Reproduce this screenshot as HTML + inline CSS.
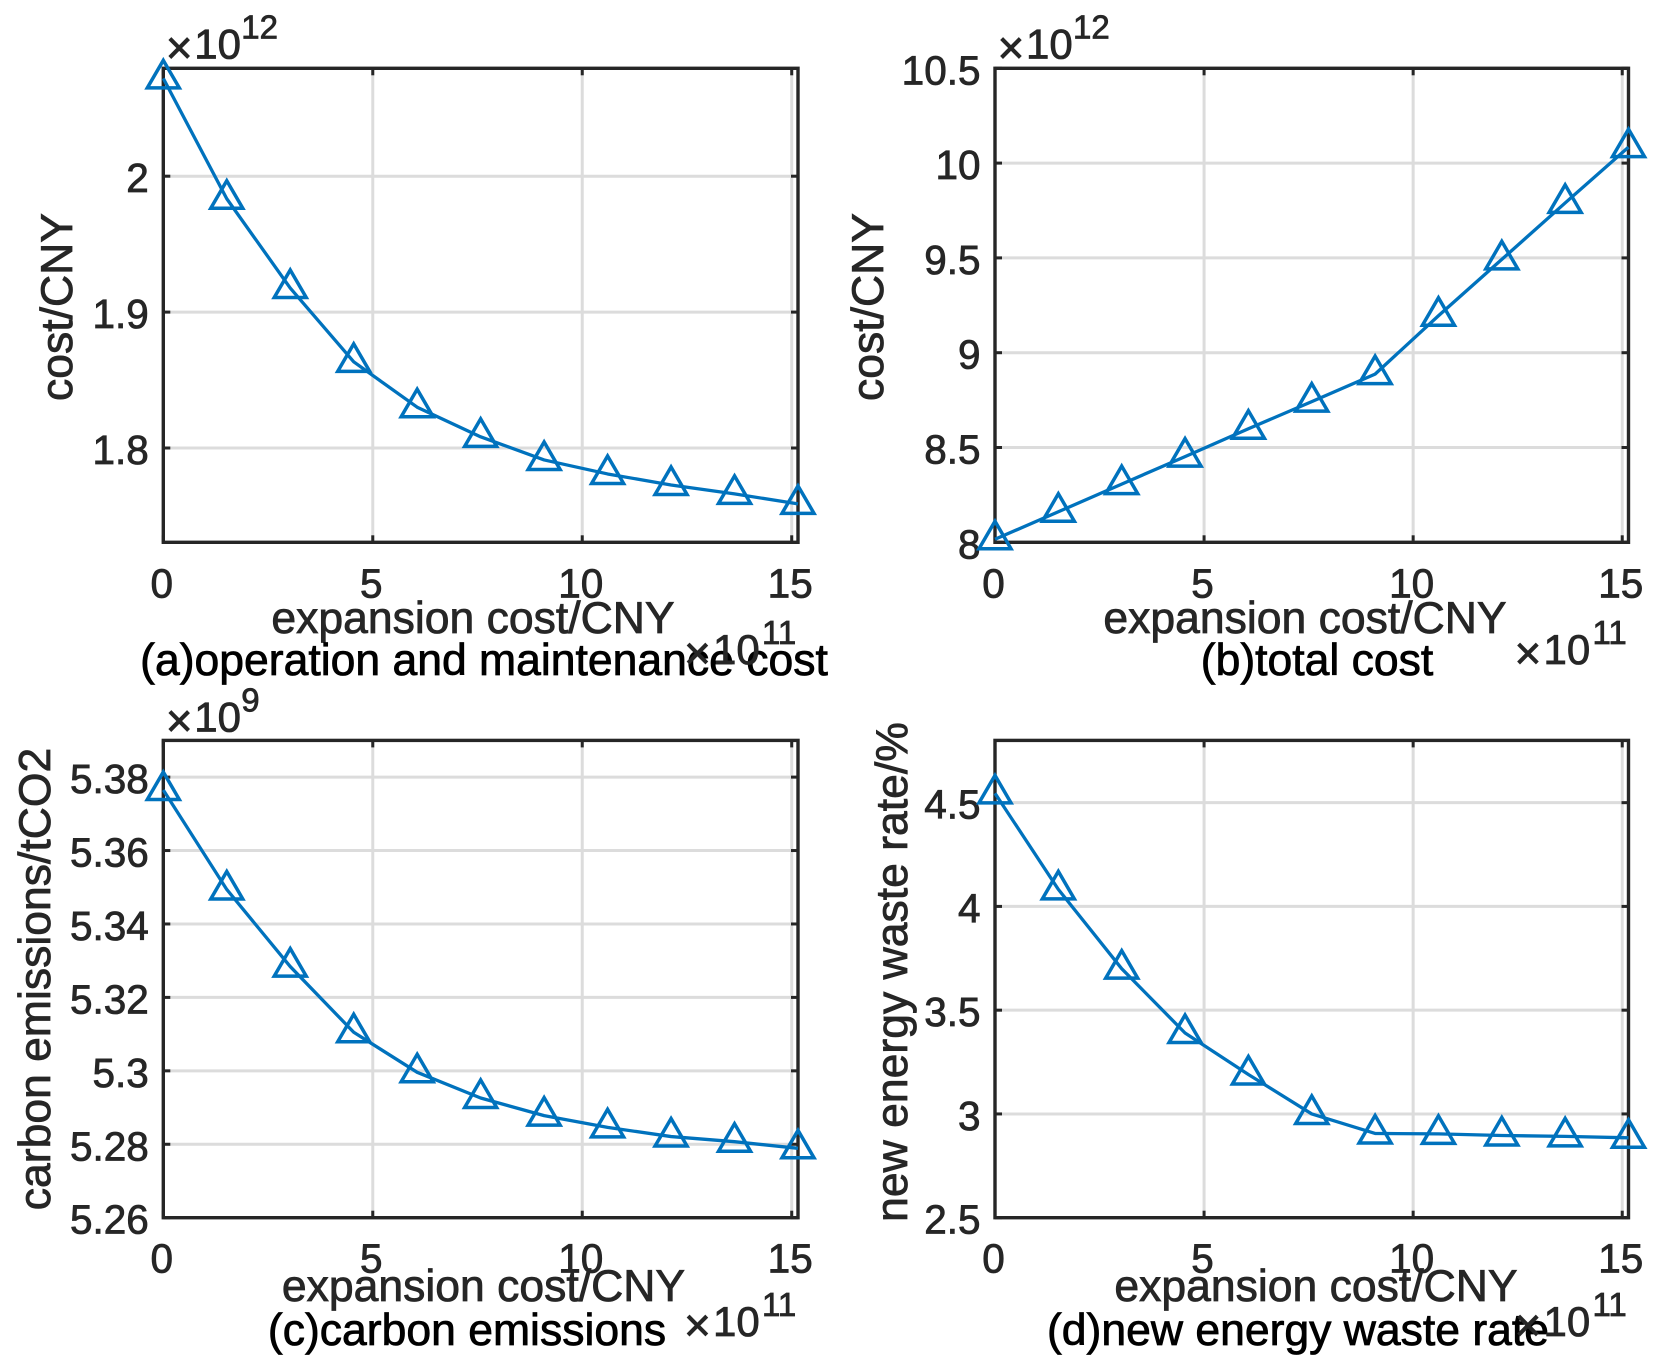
<!DOCTYPE html>
<html>
<head>
<meta charset="utf-8">
<title>Expansion cost sensitivity charts</title>
<style>
html,body{margin:0;padding:0;background:#fff;width:1665px;height:1371px;overflow:hidden}
svg{display:block}
text{font-family:"Liberation Sans",Arial,sans-serif;fill:#262626}
</style>
</head>
<body>
<svg id="figure" xmlns="http://www.w3.org/2000/svg" width="1665" height="1371" viewBox="0 0 1665 1371"></svg>
<script>
// Shared x axis
const xCategories = [0, 1.515, 3.03, 4.545, 6.06, 7.575, 9.09, 10.605, 12.12, 13.635, 15.15];
const xTicks = [0, 5, 10, 15];
const xTickLabels = ['0', '5', '10', '15'];
const xRange = [0, 15.15];

// Panel series values and y axes
const omValues = [2.072, 1.9834, 1.9177, 1.8634, 1.83, 1.8082, 1.7912, 1.7809, 1.7728, 1.7662, 1.7589];
const omTicks = [1.8, 1.9, 2.0];
const omTickLabels = ['1.8', '1.9', '2'];
const omRange = [1.7306, 2.0794];

const totalValues = [8.016, 8.161, 8.307, 8.452, 8.599, 8.742, 8.887, 9.195, 9.492, 9.79, 10.084];
const totalTicks = [8, 8.5, 9, 9.5, 10, 10.5];
const totalTickLabels = ['8', '8.5', '9', '9.5', '10', '10.5'];
const totalRange = [8, 10.5];

const carbonValues = [5.3765, 5.3494, 5.3284, 5.3105, 5.2996, 5.2926, 5.2878, 5.2846, 5.2821, 5.2807, 5.2789];
const carbonTicks = [5.26, 5.28, 5.3, 5.32, 5.34, 5.36, 5.38];
const carbonTickLabels = ['5.26', '5.28', '5.3', '5.32', '5.34', '5.36', '5.38'];
const carbonRange = [5.26, 5.39];

const wasteValues = [4.545, 4.082, 3.70, 3.39, 3.19, 3.0, 2.906, 2.904, 2.896, 2.892, 2.885];
const wasteTicks = [2.5, 3, 3.5, 4, 4.5];
const wasteTickLabels = ['2.5', '3', '3.5', '4', '4.5'];
const wasteRange = [2.5, 4.8];

const NS = 'http://www.w3.org/2000/svg';
const svg = document.getElementById('figure');

function mk(parent, tag, props) {
  const el = document.createElementNS(NS, tag);
  for (const k in props) el.setAttribute(k, props[k]);
  parent.appendChild(el);
  return el;
}

function label(parent, str, x, y, size, anchor, fill, rotate) {
  const t = mk(parent, 'text', {x: x, y: y, 'font-size': size, 'text-anchor': anchor, fill: fill});
  t.style.fill = fill;
  t.setAttribute('stroke', fill);
  t.setAttribute('stroke-width', '0.8');
  if (rotate) t.setAttribute('transform', 'rotate(-90 ' + x + ' ' + y + ')');
  t.textContent = str;
  return t;
}

function drawPanel(cfg) {
  const g = mk(svg, 'g', {});
  
  
  const L = cfg.left, R = cfg.right, T = cfg.top, B = cfg.bottom;
  const sx = v => L + (v - xRange[0]) / (xRange[1] - xRange[0]) * (R - L);
  const sy = v => B - (v - cfg.range[0]) / (cfg.range[1] - cfg.range[0]) * (B - T);

  // Grid and ticks
  xTicks.forEach((v, i) => {
    const x = sx(v);
    if (i > 0) {
      const gl = mk(g, 'line', {x1: x, x2: x, y1: T, y2: B, stroke: '#dcdcdc', 'stroke-width': 3});
      
      
    }
    const t1 = mk(g, 'line', {x1: x, x2: x, y1: B, y2: B - 7, stroke: '#262626', 'stroke-width': 3});
    
    
    const t2 = mk(g, 'line', {x1: x, x2: x, y1: T, y2: T + 7, stroke: '#262626', 'stroke-width': 3});
    
    
    const tl = label(g, xTickLabels[i], x - 1.5, B + 55, 40.5, 'middle', '#262626');
    
    
  });
  cfg.ticks.forEach((v, i) => {
    const y = sy(v);
    const gl = mk(g, 'line', {x1: L, x2: R, y1: y, y2: y, stroke: '#dcdcdc', 'stroke-width': 3});
    
    
    const t1 = mk(g, 'line', {x1: L, x2: L + 7, y1: y, y2: y, stroke: '#262626', 'stroke-width': 3});
    
    
    const t2 = mk(g, 'line', {x1: R - 7, x2: R, y1: y, y2: y, stroke: '#262626', 'stroke-width': 3});
    
    
    const tl = label(g, cfg.tickLabels[i], L - 14.5, y + 16, 40.5, 'end', '#262626');
    
    
  });

  // Frame
  const frame = mk(g, 'rect', {x: L, y: T, width: R - L, height: B - T, fill: 'none', stroke: '#262626', 'stroke-width': 3.4});
  
  

  // Series line
  const pts = cfg.values.map((v, i) => sx(xCategories[i]).toFixed(2) + ',' + sy(v).toFixed(2)).join(' ');
  const line = mk(g, 'polyline', {points: pts, fill: 'none', stroke: '#0072BD', 'stroke-width': 3.3, 'stroke-linejoin': 'round'});
  
  

  // Triangle markers
  cfg.values.forEach((v, i) => {
    const x = sx(xCategories[i]), y = sy(v);
    const p = x + ',' + (y - 18) + ' ' + (x + 16) + ',' + (y + 9.5) + ' ' + (x - 16) + ',' + (y + 9.5);
    const m = mk(g, 'polygon', {points: p, fill: 'none', stroke: '#0072BD', 'stroke-width': 3.5});
    
    
  });

  // Axis text
  const xl = label(g, 'expansion cost/CNY', cfg.xLabelX, cfg.xLabelY, 44.5, 'middle', '#262626');
  
  
  const yl = label(g, cfg.yLabel, cfg.yLabelX, cfg.yLabelY, 44.5, 'middle', '#262626', true);
  
  
  const ttl = label(g, cfg.title, cfg.titleX, cfg.titleY, 44.5, 'middle', '#000');
  
  

  // Exponent multipliers
  const xt = label(g, '×', R - 114, cfg.xExpY + 5, 46, 'start', '#262626');
  
  
  const xm = label(g, '10', R - 85, cfg.xExpY, 42, 'start', '#262626');
  
  
  const xe = label(g, '11', R - 36, cfg.xExpY - 20, 33, 'start', '#262626');
  
  
  if (cfg.yExp) {
    const yt = label(g, '×', L + 2.5, cfg.yExpY + 5, 46, 'start', '#262626');
    
    
    const ym = label(g, '10', L + 31, cfg.yExpY, 42, 'start', '#262626');
    
    
    const ye = label(g, cfg.yExp, L + 78, cfg.yExpY - 20, 33, 'start', '#262626');
    
    
  }
}

drawPanel({name: 'panel-operation-maintenance-cost', left: 163.3, right: 798, top: 68.3, bottom: 542.3,
  values: omValues, range: omRange, ticks: omTicks, tickLabels: omTickLabels,
  yLabel: 'cost/CNY', yLabelX: 72, yLabelY: 307, xLabelX: 473, xLabelY: 633,
  title: '(a)operation and maintenance cost', titleX: 484, titleY: 675, xExpY: 664, yExpY: 58.5, yExp: '12'});
drawPanel({name: 'panel-total-cost', left: 995, right: 1628.5, top: 68.3, bottom: 542.3,
  values: totalValues, range: totalRange, ticks: totalTicks, tickLabels: totalTickLabels,
  yLabel: 'cost/CNY', yLabelX: 883, yLabelY: 307, xLabelX: 1305, xLabelY: 633,
  title: '(b)total cost', titleX: 1317, titleY: 675, xExpY: 664, yExpY: 58.5, yExp: '12'});
drawPanel({name: 'panel-carbon-emissions', left: 163.3, right: 798, top: 740.4, bottom: 1217.7,
  values: carbonValues, range: carbonRange, ticks: carbonTicks, tickLabels: carbonTickLabels,
  yLabel: 'carbon emissions/tCO2', yLabelX: 50, yLabelY: 979, xLabelX: 483.5, xLabelY: 1301,
  title: '(c)carbon emissions', titleX: 467, titleY: 1345, xExpY: 1336, yExpY: 731.7, yExp: '9'});
drawPanel({name: 'panel-new-energy-waste-rate', left: 995, right: 1628.5, top: 740.4, bottom: 1217.7,
  values: wasteValues, range: wasteRange, ticks: wasteTicks, tickLabels: wasteTickLabels,
  yLabel: 'new energy waste rate/%', yLabelX: 907, yLabelY: 972, xLabelX: 1316, xLabelY: 1301,
  title: '(d)new energy waste rate', titleX: 1298, titleY: 1345, xExpY: 1336, yExpY: 0, yExp: ''});
</script>
</body>
</html>
